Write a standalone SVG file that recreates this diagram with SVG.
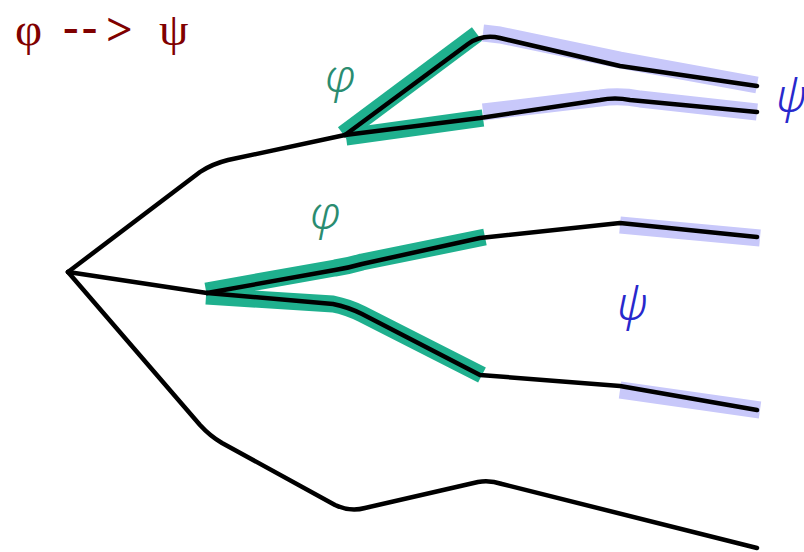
<svg xmlns="http://www.w3.org/2000/svg" width="804" height="552" viewBox="0 0 804 552">
<style>
.blk{fill:none;stroke:#000;stroke-width:4.5;stroke-linejoin:round;stroke-linecap:round}
.grn{fill:none;stroke:#1fb08e;stroke-width:17;stroke-linecap:butt;stroke-linejoin:round}
.lav{fill:none;stroke:#c8c8fa;stroke-width:17;stroke-linecap:butt;stroke-linejoin:round}
.lbl{font-family:"Noto Sans","DejaVu Serif",sans-serif;font-style:italic;font-weight:300}
.phi{fill:#2a8c70;font-size:46px}
.psi{fill:#2828cc;font-size:46px}
.title{font-family:"Liberation Serif","DejaVu Serif",serif;font-size:47px;fill:#800000}
.tb{font-weight:bold}
</style>
<rect width="804" height="552" fill="#fff"/>
<g id="title">
<text class="title" x="15" y="45">φ</text>
<text class="title tb" x="63" y="42" letter-spacing="3">--</text>
<text class="title tb" x="106" y="45">&gt;</text>
<text class="title" x="159" y="45">ψ</text>
</g>
<g id="highlights">
<path class="grn" d="M343,134 L477,34"/>
<path class="grn" d="M346,137 L483,118"/>
<path class="grn" d="M206,291 L335,268 Q348,266 362,262 L485,237"/>
<path class="grn" d="M206,296 L333,304 Q348,307 362,314 L482,375"/>
<path class="lav" d="M483,33 L500,35 L620,60 L757,85"/>
<path class="lav" d="M483,112 L600,98 Q620,95 640,99 L757,112"/>
<path class="lav" d="M620,225 L760,238"/>
<path class="lav" d="M620,390 L760,410"/>
</g>
<g id="connectors">
<path class="blk" d="M68,272 L200,172 Q212,164 228,160 L345,135"/>
<path class="blk" d="M345,135 L468,44 Q482,34 500,38 L620,66 L757,86"/>
<path class="blk" d="M345,135 L480,118 L600,100 Q615,97 630,100 L757,112"/>
<path class="blk" d="M68,272 L207,293"/>
<path class="blk" d="M207,293 L335,270 Q348,268 362,264 L480,238 L620,223 L757,237"/>
<path class="blk" d="M207,293 L333,304 Q348,307 362,314 L480,375 L620,386 L757,410"/>
<path class="blk" d="M68,272 L200,425 Q210,436 222,443 L335,505 Q350,512 365,508 L478,482 Q490,480 502,484 L757,548"/>
</g>
<g id="labels">
<text class="lbl phi" x="325" y="92">φ</text>
<text class="lbl phi" x="310" y="229">φ</text>
<text class="lbl psi" x="617" y="320">ψ</text>
<text class="lbl psi" x="776" y="112">ψ</text>
</g>
</svg>
